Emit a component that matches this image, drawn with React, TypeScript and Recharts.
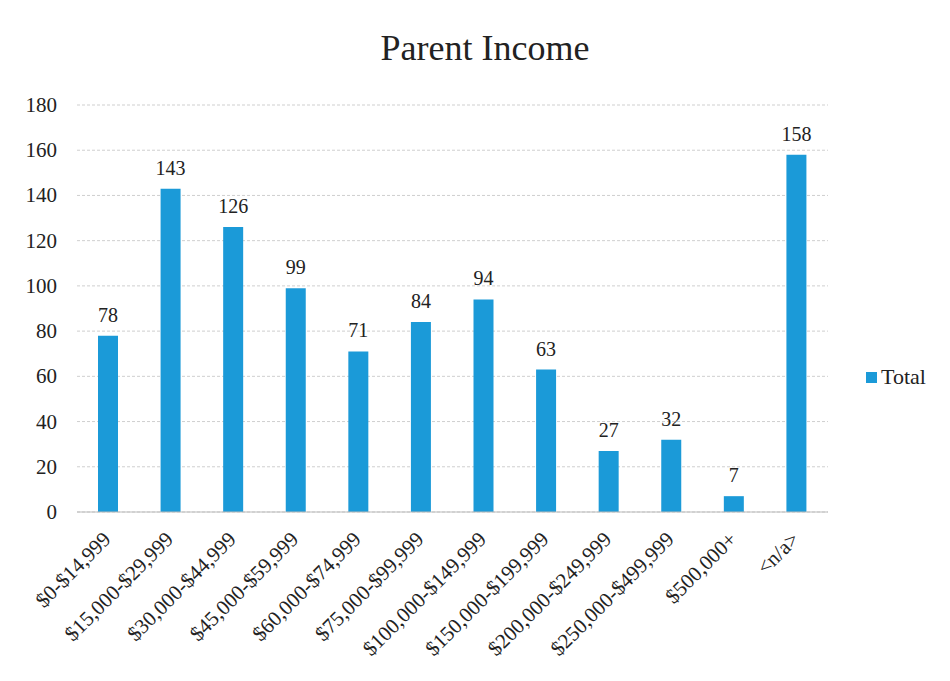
import { BarChart, Bar, XAxis, YAxis, CartesianGrid, LabelList } from "recharts";

const categories = [
    "$0-$14,999",
    "$15,000-$29,999",
    "$30,000-$44,999",
    "$45,000-$59,999",
    "$60,000-$74,999",
    "$75,000-$99,999",
    "$100,000-$149,999",
    "$150,000-$199,999",
    "$200,000-$249,999",
    "$250,000-$499,999",
    "$500,000+",
    "<n/a>",
];
const totals = [78, 143, 126, 99, 71, 84, 94, 63, 27, 32, 7, 158];
const yTicks = [0, 20, 40, 60, 80, 100, 120, 140, 160, 180];

const data = categories.map((name, i) => ({ name, Total: totals[i] }));

const FONT = "'Liberation Serif', 'DejaVu Serif', serif";
const BLUE = "#1b9ad8";

function XTick(props: any) {
    const { x, y, payload } = props;
    return (
        <g transform={`translate(${x - 2},${y + 15})`}>
            <text transform="rotate(-45)" textAnchor="end" style={{ fontFamily: FONT }} fontSize={21} fill="#222" dy={8}>
                {payload.value}
            </text>
        </g>
    );
}

function YTick(props: any) {
    const { x, y, payload } = props;
    return (
        <text x={x} y={y} dy={7} textAnchor="end" style={{ fontFamily: FONT }} fontSize={21} fill="#222">
            {payload.value}
        </text>
    );
}

export default function App() {
    return (
        <div style={{ position: "absolute", left: 0, top: 0, width: 950, height: 681, background: "#fff" }}>
            <div
                style={{
                    position: "absolute",
                    left: 0,
                    width: 970,
                    top: 27,
                    textAlign: "center",
                    fontFamily: FONT,
                    fontSize: 36,
                    color: "#222",
                }}
            >
                Parent Income
            </div>
            <div
                style={{
                    position: "absolute",
                    left: 866,
                    top: 364,
                    display: "flex",
                    alignItems: "center",
                    fontFamily: FONT,
                    fontSize: 22,
                    color: "#222",
                }}
            >
                <span style={{ display: "inline-block", width: 11, height: 11, background: BLUE, marginRight: 4 }} />
                Total
            </div>
            <BarChart width={950} height={681} data={data} margin={{ top: 105, right: 122, bottom: 0, left: 0 }}>
                <CartesianGrid vertical={false} stroke="#cfcfcf" strokeDasharray="3 2" />
                <XAxis
                    dataKey="name"
                    interval={0}
                    height={169}
                    tick={<XTick />}
                    tickLine={false}
                    axisLine={{ stroke: "#bbb" }}
                />
                <YAxis
                    domain={[0, 180]}
                    ticks={yTicks}
                    width={77}
                    tickLine={false}
                    axisLine={false}
                    tickMargin={14}
                    tick={<YTick />}
                />
                <Bar dataKey="Total" fill={BLUE} barSize={20} isAnimationActive={false}>
                    <LabelList dataKey="Total" position="top" offset={14} style={{ fontFamily: FONT }} fontSize={20} fill="#222" />
                </Bar>
            </BarChart>
        </div>
    );
}
